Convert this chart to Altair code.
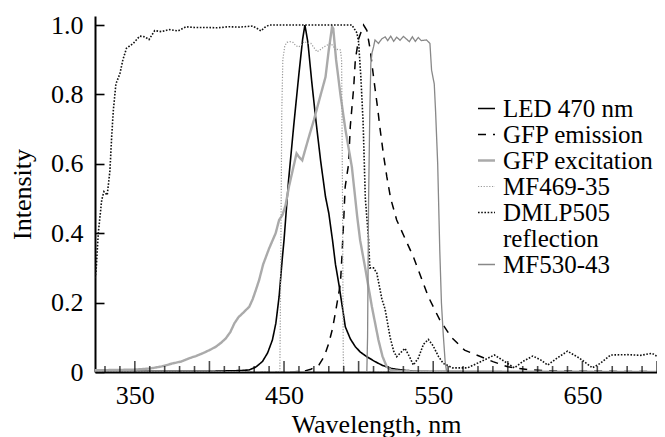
import altair as alt
import pandas as pd

series_names = ["LED 470 nm", "GFP emission", "GFP excitation", "MF469-35", "DMLP505 reflection", "MF530-43"]
# second line of the "DMLP505 reflection" legend label (no data of its own)
legend_names = ["LED 470 nm", "GFP emission", "GFP excitation", "MF469-35", "DMLP505 reflection", "reflection",
                "MF530-43"]

led_wl = [323.3, 400, 420, 426.7, 431, 435.5, 439, 442.2, 444.5, 446.7, 448.9, 450, 453, 456.5, 460, 462.5, 464,
          466, 468.5, 471.5, 474.5, 477.8, 480, 482.5, 484.5, 486.7, 489, 491.1, 494.5, 497.8, 501, 505.5, 511,
          516, 522, 530, 540, 560, 700]
led_v = [0.002, 0.002, 0.004, 0.006, 0.014, 0.03, 0.055, 0.092, 0.14, 0.217, 0.33, 0.38, 0.55, 0.71, 0.86, 0.96, 1.0,
         0.95, 0.84, 0.72, 0.61, 0.505, 0.458, 0.38, 0.31, 0.255, 0.19, 0.13, 0.095, 0.073, 0.058, 0.044, 0.03,
         0.019, 0.01, 0.005, 0.002, 0.001, 0.0]

em_wl = [323.3, 455, 463, 468, 473.3, 477, 480, 482.5, 484.4, 486.2, 487.8, 488.9, 490, 491, 493.3, 494.4, 496.7,
         497.8, 500, 503.3, 505.5, 507.8, 510, 512.9, 514.4, 516.7, 518.9, 521.5, 525.5, 531.1, 536.7, 546.7,
         554.4, 562.2, 571, 582, 590, 600, 613, 630, 700]
em_v = [0.0, 0.0, 0.002, 0.008, 0.02, 0.045, 0.083, 0.125, 0.17, 0.215, 0.255, 0.34, 0.438, 0.534, 0.6, 0.707, 0.82,
        0.9, 0.96, 1.0, 0.985, 0.928, 0.85, 0.755, 0.7, 0.625, 0.563, 0.5, 0.438, 0.385, 0.332, 0.217,
        0.15, 0.1, 0.063, 0.044, 0.03, 0.015, 0.007, 0.003, 0.001]

ex_wl = [323.3, 340, 350, 360, 368, 375.5, 381, 386.7, 391, 395.5, 400, 404.4, 408, 411, 414, 416.7, 419.5, 422.2,
         426.7, 429, 431.1, 433.3, 436, 440, 444.4, 446.7, 448.9, 451, 453.3, 456, 458.4, 460, 462.2, 464.5, 466.7,
         470, 474, 477.8, 480, 482.2, 483, 484.9, 487.8, 491.1, 495.5, 499, 501, 504.4, 508.9, 513.3, 516, 518.9,
         522, 530, 700]
ex_v = [0.005, 0.006, 0.007, 0.01, 0.016, 0.025, 0.03, 0.04, 0.046, 0.054, 0.063, 0.073, 0.085, 0.097, 0.115, 0.14,
        0.158, 0.169, 0.188, 0.21, 0.236, 0.265, 0.31, 0.356, 0.4, 0.438, 0.452, 0.48, 0.534, 0.585, 0.63, 0.62,
        0.61, 0.645, 0.678, 0.726, 0.79, 0.85, 0.928, 0.995, 0.99, 0.9, 0.8, 0.7, 0.59, 0.45, 0.38, 0.3, 0.188,
        0.092, 0.045, 0.015, 0.005, 0.002, 0.0]

mf469_wl = [323.3, 447.2, 447.8, 448.5, 449.2, 450.5, 452, 454, 456, 458, 460, 462, 463.5, 466, 468, 470, 472.2, 474,
            475.5, 478, 481, 483, 484.4, 486, 487.8, 488.6, 489.2, 489.7, 490, 700]
mf469_v = [0.0, 0.0, 0.3, 0.75, 0.9, 0.94, 0.95, 0.952, 0.95, 0.94, 0.937, 0.945, 0.952, 0.948, 0.947, 0.935, 0.923,
           0.928, 0.933, 0.94, 0.947, 0.94, 0.928, 0.93, 0.928, 0.9, 0.5, 0.05, 0.0, 0.0]

dmlp_wl = [323.3, 324, 325.5, 327.8, 329.3, 331.5, 333.3, 334.5, 335.6, 337.3, 340, 342, 344.4, 348.9, 353.3, 356.7,
           359.5, 363.3, 367.8, 373.3, 378.9, 384.4, 390, 397.8, 405, 413, 420, 428.9, 432, 434.5, 437, 440, 495.5,
           498.9, 500, 501.5, 503, 504.5, 506.7, 507.5, 510, 512.2, 515.6, 517.8, 521.1, 523.5, 525.5, 528, 531.1,
           534, 536.7, 540, 543.5, 546.7, 550, 553.5, 556.7, 563, 573, 582, 591, 598, 604.4, 610, 616.7, 622, 626.7,
           633, 640, 648, 656.7, 662, 668.9, 680, 689, 696.7, 700]
dmlp_v = [0.27, 0.29, 0.4, 0.496, 0.52, 0.51, 0.58, 0.68, 0.755, 0.83, 0.86, 0.9, 0.933, 0.947, 0.968, 0.966,
          0.958, 0.984, 0.981, 0.987, 0.983, 0.995, 0.993, 0.993, 0.992, 0.995, 0.994, 0.997, 0.99, 0.983, 0.993,
          1.0, 1.0, 0.977, 0.95, 0.85, 0.72, 0.5, 0.38, 0.3, 0.3, 0.285, 0.21, 0.18, 0.1, 0.06, 0.044, 0.055,
          0.068, 0.045, 0.02, 0.04, 0.08, 0.094, 0.075, 0.045, 0.025, 0.012, 0.012, 0.03, 0.049, 0.03, 0.012,
          0.03, 0.046, 0.035, 0.02, 0.04, 0.06, 0.04, 0.012, 0.025, 0.049, 0.05, 0.048, 0.054, 0.045]

mf530_wl = [323.3, 505.5, 506, 506.7, 507.5, 508.2, 509, 510, 511, 513.3, 515.5, 517.8, 519.5, 521.5, 523.5, 525.5,
            527.8, 530, 532, 534, 536, 538, 540, 542, 545.5, 547.8, 548.9, 550.7, 551.6, 553, 554.4, 555.5, 556.7,
            558, 559, 700]
mf530_v = [0.0, 0.0, 0.1, 0.5, 0.75, 0.89, 0.92, 0.937, 0.957, 0.947, 0.96, 0.966, 0.955, 0.968, 0.953, 0.965,
           0.956, 0.967, 0.96, 0.952, 0.966, 0.953, 0.964, 0.955, 0.957, 0.947, 0.87, 0.83, 0.75, 0.6, 0.35, 0.2,
           0.11, 0.03, 0.0, 0.0]

x_minor_ticks = [t for t in range(330, 701, 10) if t % 50 != 0]
x_major_ticks = list(range(350, 701, 50))
x_labels = [350, 450, 550, 650]
y_ticks = [round(i * 0.05, 2) for i in range(0, 21)]

colors = ["#000000", "#000000", "#aaaaaa", "#999999", "#111111", "rgba(0,0,0,0)", "#888888"]
dashes = [[1, 0], [8, 7], [1, 0], [1.2, 1.6], [1.6, 1.6], [1, 0], [1, 0]]
widths = [1.6, 1.5, 2.4, 1.2, 1.6, 1.0, 1.3]

all_wl = [led_wl, em_wl, ex_wl, mf469_wl, dmlp_wl, mf530_wl]
all_v = [led_v, em_v, ex_v, mf469_v, dmlp_v, mf530_v]
rows = []
for name, wls, vs in zip(series_names, all_wl, all_v):
    for i, (w, v) in enumerate(zip(wls, vs)):
        rows.append({"series": name, "wl": w, "v": v, "idx": i})
df = pd.DataFrame(rows)

FONT = "Liberation Serif"
xscale = alt.Scale(domain=[323.3, 700], nice=False, zero=False)
yscale = alt.Scale(domain=[0, 1.026], nice=False)

label_expr = ("datum.label == 'DMLP505 reflection' ? 'DMLP505' : "
              "(datum.label == 'reflection' ? '\u2002\u2002reflection' : datum.label)")

legend = alt.Legend(title=None, orient="none", legendX=379, legendY=80, labelFont=FONT,
                    labelFontSize=25, labelColor="black", symbolType="stroke", symbolSize=289, rowPadding=0,
                    labelOffset=4, padding=0, labelLimit=0, labelExpr=label_expr)

lines = alt.Chart(df).mark_line(clip=True).encode(
    x=alt.X("wl:Q", scale=xscale, title="Wavelength, nm",
            axis=alt.Axis(values=x_labels, ticks=False, labelPadding=10, format="d",
                          labelOverlap=False, labelFlush=False, grid=False, domainColor="black",
                          domainWidth=2, labelFont=FONT,
                          labelFontSize=26, labelColor="black", titleFont=FONT, titleFontSize=26,
                          titleFontWeight="normal", titleColor="black", titleBaseline="alphabetic",
                          titleY=60)),
    y=alt.Y("v:Q", scale=yscale, title="Intensity",
            axis=alt.Axis(values=y_ticks, tickSize={"expr": "-9"}, labelPadding=21,
                          labelExpr="datum.value == 0 ? '0' : (round(datum.value*20) % 4 == 0 ? format(datum.value, '.1f') : '')",
                          labelOverlap=False, labelFlush=False, grid=False, domainColor="black",
                          domainWidth=2, tickColor="black", tickWidth=1.6, labelFont=FONT,
                          labelFontSize=26, labelColor="black", titleFont=FONT, titleFontSize=26,
                          titleFontWeight="normal", titleColor="black", titleBaseline="alphabetic",
                          titleX=-65)),
    color=alt.Color("series:N", scale=alt.Scale(domain=legend_names, range=colors), legend=legend),
    strokeDash=alt.StrokeDash("series:N", scale=alt.Scale(domain=legend_names, range=dashes), legend=legend),
    strokeWidth=alt.StrokeWidth("series:N", scale=alt.Scale(type="ordinal", domain=legend_names, range=widths),
                                legend=legend),
    detail="series:N",
    order="idx:Q",
)

minor = alt.Chart(pd.DataFrame({"t": x_minor_ticks})).mark_tick(
    orient="vertical", size=6, thickness=1.6, color="black", yOffset=-3
).encode(x=alt.X("t:Q", scale=xscale), y=alt.datum(0, scale=yscale))

major = alt.Chart(pd.DataFrame({"t": x_major_ticks})).mark_tick(
    orient="vertical", size=11, thickness=1.6, color="black", yOffset=-5.5
).encode(x=alt.X("t:Q", scale=xscale), y=alt.datum(0, scale=yscale))

chart = alt.layer(lines, minor, major).properties(
    width=562, height=356,
    autosize=alt.AutoSizeParams(type="none"),
    padding={"left": 87, "top": 8, "right": 0, "bottom": 66},
).configure(
    font=FONT,
).configure_view(stroke=None)

chart.save("out.html", embed_options={"renderer": "svg", "actions": False})
